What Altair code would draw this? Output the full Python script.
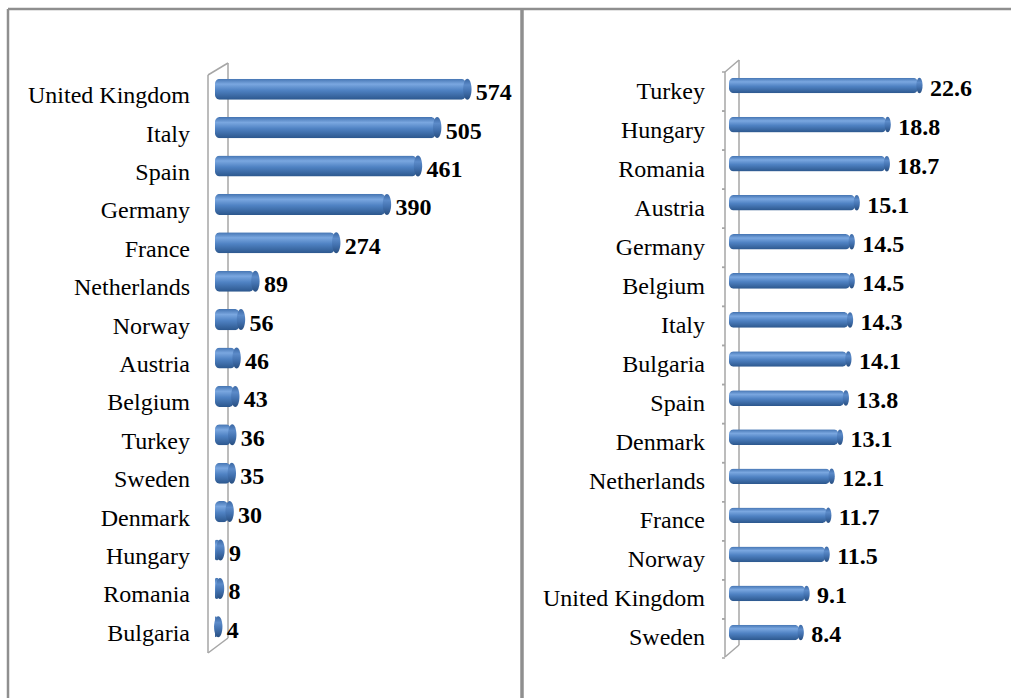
import altair as alt
import pandas as pd

# ---- data ----
left_countries = ["United Kingdom", "Italy", "Spain", "Germany", "France", "Netherlands",
                  "Norway", "Austria", "Belgium", "Turkey", "Sweden", "Denmark",
                  "Hungary", "Romania", "Bulgaria"]
left_values = [574, 505, 461, 390, 274, 89, 56, 46, 43, 36, 35, 30, 9, 8, 4]

right_countries = ["Turkey", "Hungary", "Romania", "Austria", "Germany", "Belgium", "Italy",
                   "Bulgaria", "Spain", "Denmark", "Netherlands", "France", "Norway",
                   "United Kingdom", "Sweden"]
right_values = [22.6, 18.8, 18.7, 15.1, 14.5, 14.5, 14.3, 14.1, 13.8, 13.1, 12.1, 11.7,
                11.5, 9.1, 8.4]

left_df = pd.DataFrame({"country": left_countries, "value": left_values})
right_df = pd.DataFrame({"country": right_countries, "value": right_values})

W, H = 1011, 698
SERIF = "Liberation Serif"
WALL = "#a6a6a6"

bar_grad = alt.Gradient(
    gradient="linear", x1=0, x2=0, y1=0, y2=1,
    stops=[alt.GradientStop(color="#4373b1", offset=0),
           alt.GradientStop(color="#7aa7e0", offset=0.26),
           alt.GradientStop(color="#4f82c3", offset=0.55),
           alt.GradientStop(color="#2c578d", offset=1)])
cap_grad = alt.Gradient(
    gradient="linear", x1=0, x2=0, y1=0, y2=1,
    stops=[alt.GradientStop(color="#3a67a3", offset=0),
           alt.GradientStop(color="#5c8bc9", offset=0.3),
           alt.GradientStop(color="#4372b0", offset=0.6),
           alt.GradientStop(color="#284e80", offset=1)])
ELLIPSE = "M0,-1A0.4,1 0 1,1 0,1A0.4,1 0 1,1 0,-1Z"


def seg(x1, y1, x2, y2, color=WALL, width=1.5):
    return alt.Chart(alt.Data(values=[{"k": 0}])).mark_rule(
        color=color, strokeWidth=width
    ).encode(x=alt.value(x1), y=alt.value(y1), x2=alt.value(x2), y2=alt.value(y2))


def panel(df, order, x_range, x_dom, y_range, pad_inner, bar_h, label_right,
          cat_offset, fmt, label_dx, label_dy, label_size, tick_x=None, tick_shift=0):
    xs = alt.Scale(domain=x_dom, range=x_range, nice=False, zero=True)
    ys = alt.Scale(domain=order, range=y_range, paddingInner=pad_inner,
                   paddingOuter=pad_inner / 2)
    X = alt.X("value:Q", scale=xs, axis=None)
    Y = alt.Y("country:N", scale=ys, sort=order, axis=None, title=None)
    base = alt.Chart(df)
    bars = base.mark_bar(color=bar_grad, cornerRadius=5).encode(x=X, y=Y)
    caps = base.mark_point(shape=ELLIPSE, filled=True, fill=cap_grad, opacity=1,
                           size=bar_h * bar_h, xOffset=1.5).encode(x=X, y=Y)
    values = base.mark_text(align="left", baseline="middle", dx=label_dx, dy=label_dy,
                            font=SERIF, fontSize=label_size, fontWeight="bold",
                            color="#000000").encode(
        x=X, y=Y, text=alt.Text("value:Q", format=fmt))
    cats = base.mark_text(align="right", baseline="middle", font=SERIF, fontSize=24,
                          color="#000000", yOffset=cat_offset).encode(
        x=alt.value(label_right), y=Y, text="country:N")
    layers = [bars, caps, values, cats]
    if tick_x is not None:
        step = (y_range[1] - y_range[0]) / len(order)
        half_gap = pad_inner * step / 2
        for bp, off in ((0, -half_gap + tick_shift), (1, half_gap + tick_shift)):
            layers.append(
                base.mark_rule(color=WALL, strokeWidth=1.5, yOffset=off).encode(
                    x=alt.value(tick_x - 3), x2=alt.value(tick_x),
                    y=alt.Y("country:N", scale=ys, sort=order, axis=None,
                            bandPosition=bp)))
    return alt.layer(*layers)


left = panel(left_df, left_countries,
             x_range=[215, 215 + 0.437 * 650], x_dom=[0, 650],
             y_range=[70, 646], pad_inner=0.45, bar_h=21, label_right=190,
             cat_offset=7, fmt="d", label_dx=10, label_dy=4, label_size=24)

right = panel(right_df, right_countries,
              x_range=[729, 729 + 8.36 * 25], x_dom=[0, 25],
              y_range=[66, 652], pad_inner=0.6, bar_h=15.5, label_right=705,
              cat_offset=6, fmt=".1f", label_dx=12, label_dy=3, label_size=24,
              tick_x=725, tick_shift=6)

# 3-D wall outlines and panel frames (decoration)
decor = [
    # left wall
    seg(208, 75, 208, 653), seg(228, 63, 228, 638),
    seg(208, 75, 228, 63), seg(208, 653, 228, 638),
    # right wall
    seg(725, 72, 725, 657), seg(739, 60, 739, 645),
    seg(725, 72, 739, 60), seg(725, 657, 739, 645),
    # frames
    seg(8, 9, 1011, 9, color="#8f8f8f", width=2.5),
    seg(8, 9, 8, 698, color="#8f8f8f", width=2.5),
    seg(522, 9, 522, 698, color="#8f8f8f", width=3.5),
]

chart = alt.layer(*decor, left, right).resolve_scale(
    x="independent", y="independent"
).properties(
    width=W, height=H,
    autosize=alt.AutoSizeParams(type="none"),
    padding=0,
    background="white",
).configure_view(stroke=None)

chart.save("out.html", embed_options={"renderer": "svg", "actions": False})
